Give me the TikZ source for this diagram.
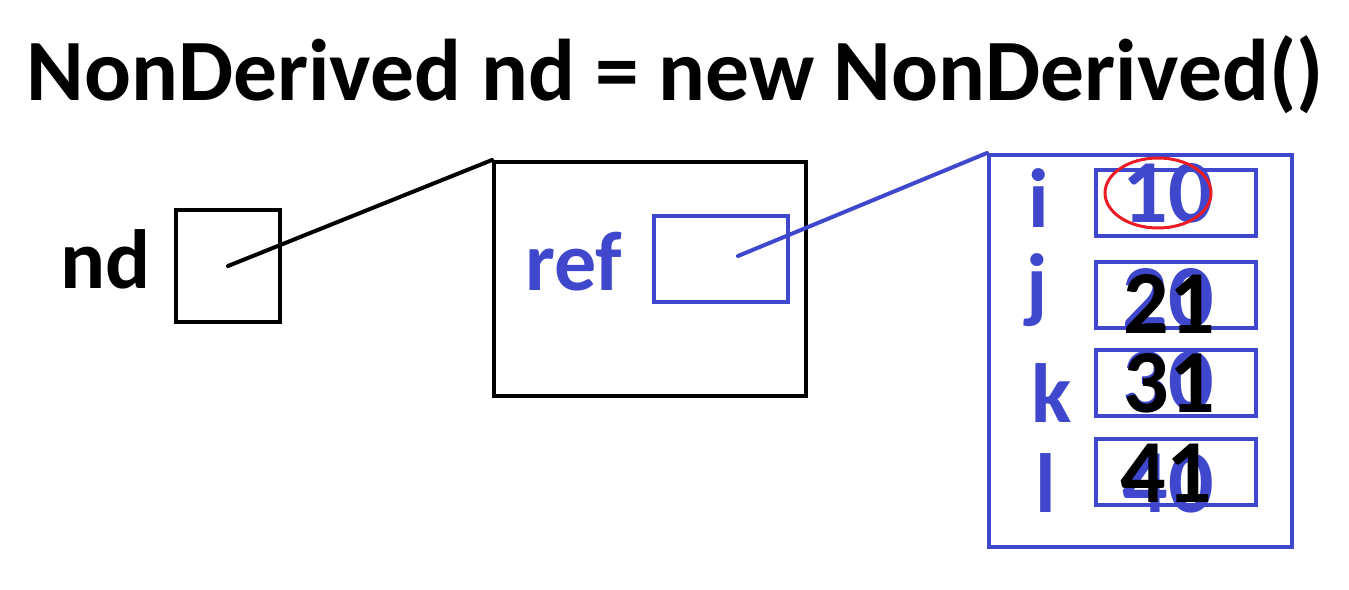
\documentclass[tikz,border=0pt]{standalone}
\usepackage{fontspec}
\setmainfont{Carlito}
\usetikzlibrary{shapes.geometric}
\definecolor{pblue}{RGB}{63,72,204}
\definecolor{pred}{RGB}{237,28,36}
\begin{document}
\begin{tikzpicture}[x=1pt,y=-1pt,
  txt/.style={inner sep=0pt,font=\fontsize{84}{84}\selectfont\bfseries},
  val/.style={inner sep=0pt,font=\fontsize{90}{90}\selectfont\bfseries},
  bbox/.style={draw=black,line width=4pt,inner sep=0pt},
  ubox/.style={draw=pblue,line width=4pt,inner sep=0pt},
  link/.style={line width=4pt,line cap=round}]
\useasboundingbox (0,0) rectangle (1349,589);
% title
\node[inner sep=0pt,font=\fontsize{87.5}{88}\selectfont\bfseries,anchor=base] (title) at (675,100) {NonDerived nd = new NonDerived()};
% nd variable
\node[txt,anchor=base west] (ndlbl) at (60,288) {nd};
\node[bbox,minimum width=104pt,minimum height=112pt] (ndbox) at (228,266) {};
% object with ref
\node[bbox,minimum width=312pt,minimum height=234pt] (objbox) at (650,279) {};
\node[txt,text=pblue,anchor=base west] (reflbl) at (525,290) {ref};
\node[ubox,minimum width=134pt,minimum height=86pt] (refbox) at (721,259) {};
% fields object
\node[ubox,minimum width=303pt,minimum height=392pt] (fieldbox) at (1140.5,351) {};
\node[ubox,minimum width=160pt,minimum height=66pt] (ibox) at (1176,203) {};
\node[ubox,minimum width=160pt,minimum height=66pt] (jbox) at (1176,295) {};
\node[ubox,minimum width=160pt,minimum height=66pt] (kbox) at (1176,383) {};
\node[ubox,minimum width=160pt,minimum height=66pt] (lbox) at (1176,472) {};
\node[txt,text=pblue,anchor=base] (ilbl) at (1039,227) {i};
\node[txt,text=pblue,anchor=base] (jlbl) at (1037,312) {j};
\node[txt,text=pblue,anchor=base] (klbl) at (1052,422) {k};
\node[txt,text=pblue,anchor=base] (llbl) at (1046,512) {l};
% values
\node[val,text=pblue,anchor=base] (ival) at (1168,222) {10};
\node[val,text=pblue,anchor=base] (jold) at (1168,327) {20};
\node[val,text=pblue,anchor=base] (kold) at (1168,410) {30};
\node[val,text=pblue,anchor=base] (lold) at (1168,512) {40};
\node[val,text=black,anchor=base] (jnew) at (1169,333) {21};
\node[val,text=black,anchor=base] (knew) at (1169,412) {31};
\node[val,text=black,anchor=base] (lnew) at (1166,502) {41};
\node[draw=pred,line width=3pt,ellipse,minimum width=106pt,minimum height=70pt,inner sep=0pt] (mark10) at (1158,193) {};
% connectors
\draw[link,black] (ndbox.center) -- (objbox.north west);
\draw[link,pblue] ([xshift=17pt,yshift=3pt]refbox.center) -- (fieldbox.north west);
\end{tikzpicture}
\end{document}
